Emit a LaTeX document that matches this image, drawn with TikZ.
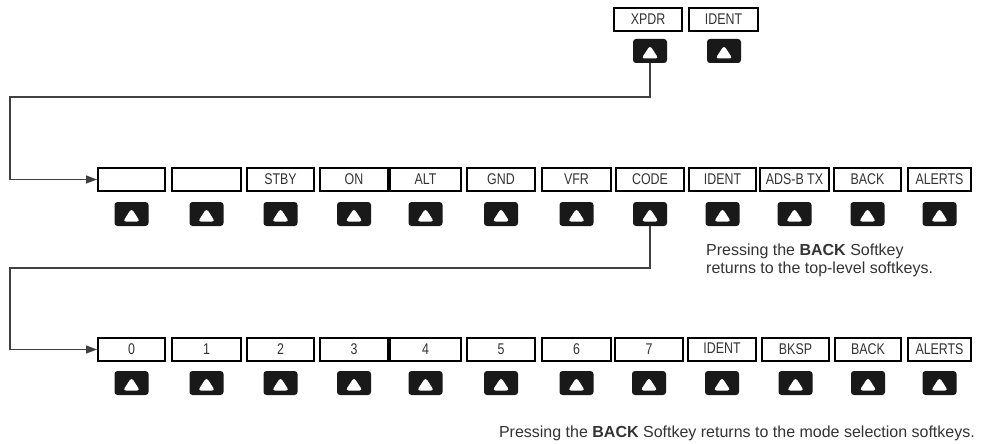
\documentclass[tikz,border=0pt]{standalone}
\usepackage{fontspec}
\setmainfont{Liberation Sans}
\newfontfamily\condfont[FakeStretch=0.8]{Liberation Sans}
\usetikzlibrary{arrows.meta}
\begin{document}
\begin{tikzpicture}[x=1pt,y=-1pt,
  softbox/.style={draw=black, line width=2.1pt, inner sep=0pt, minimum height=22.9pt,
    font=\condfont\fontsize{15.5}{15.5}\selectfont, text=black!80},
  keybtn/.style={fill=black!90, rounded corners=3pt, minimum width=34pt, minimum height=24pt, inner sep=0pt,
    path picture={\fill[white] ([shift={(-8.5,7.5)}]path picture bounding box.center)
      -- ([shift={(8.5,7.5)}]path picture bounding box.center)
      -- ([shift={(0,-5.5)}]path picture bounding box.center) -- cycle;}},
  conn/.style={draw=black!75, line width=1.3pt},
  arr/.style={-{Triangle[length=11pt,width=8pt]}},
  note/.style={font=\fontsize{16}{18}\selectfont, text=black!80, inner sep=0pt}]
\useasboundingbox (0,0) rectangle (982,444);

% top-level softkeys
\node[softbox, minimum width=67.9pt] (xpdr) at (648,19.5) {XPDR};
\node[softbox, minimum width=68.9pt] (tident) at (723.5,19.5) {IDENT};
\node[keybtn] (kxpdr) at (650,51) {};
\node[keybtn] (kident) at (724,51) {};

% mode selection softkeys
\foreach \l/\r/\t [count=\i] in {97/166/{},171/242/{},246/315/STBY,319/389/ON,389/462/ALT,466/536/GND,541/612/VFR,615/685/CODE,688/757/IDENT,759/830/{ADS-B TX},833/902/BACK,907/972/ALERTS} {
  \pgfmathsetmacro\cx{(\l+\r)/2}
  \pgfmathsetmacro\w{\r-\l-2.1}
  \node[softbox, minimum width=\w pt] (a\i) at (\cx,179.5) {\t};
  \node[keybtn] (ka\i) at (\cx,214) {};
}

% code softkeys
\foreach \l/\r/\t/\dy [count=\i] in {97/166/0/0,171/242/1/0,246/315/2/0,319/389/3/0,389/462/4/0,466/536/5/0,541/612/6/0,614/684/7/0,687/757/IDENT/2.5,761/830/BKSP/0,834/902/BACK/0,907/972/ALERTS/0} {
  \pgfmathsetmacro\cx{(\l+\r)/2}
  \pgfmathsetmacro\w{\r-\l-2.1}
  \node[softbox, minimum width=\w pt] (b\i) at (\cx,349.5) {\raisebox{\dy pt}{\t}};
  \node[keybtn] (kb\i) at (\cx,383) {};
}

% connectors
\coordinate (c1) at (10,97);
\coordinate (c2) at (10,268);
\draw[conn, arr] (kxpdr.south) |- (c1) |- (a1.west);
\draw[conn, arr] (ka8.south) |- (c2) |- (b1.west);

% notes
\node[note, anchor=north west, align=left] (n1) at (706,243.5)
  {Pressing the \textbf{BACK} Softkey\\returns to the top-level softkeys.};
\node[note, anchor=base east] (n2) at (975,437)
  {Pressing the \textbf{BACK} Softkey returns to the mode selection softkeys.};
\end{tikzpicture}
\end{document}
